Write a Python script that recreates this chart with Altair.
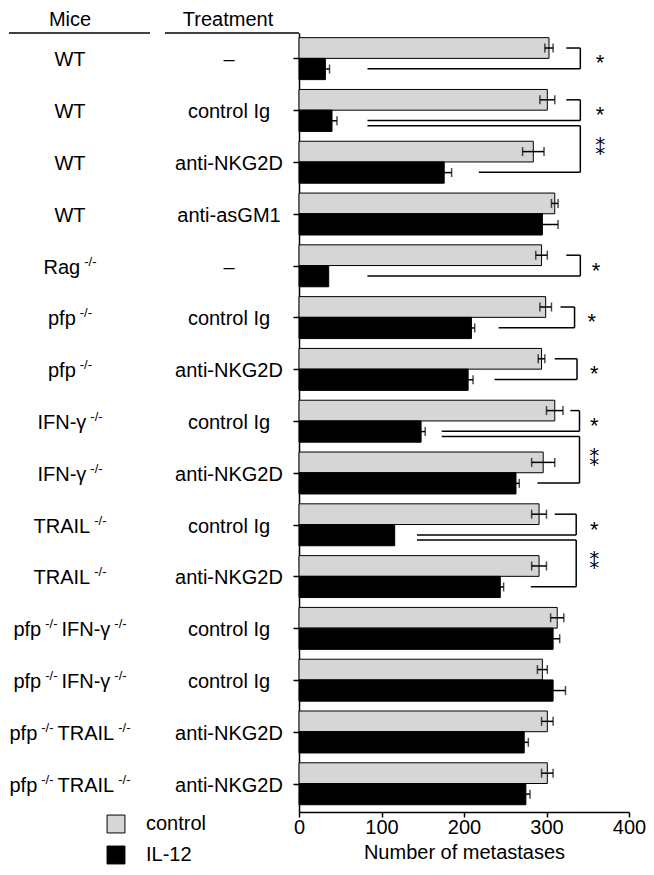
import re
import altair as alt
import pandas as pd

# ---------------- data ----------------
mice = ["WT", "WT", "WT", "WT", "Rag{-/-}", "pfp{-/-}", "pfp{-/-}",
        "IFN-γ{-/-}", "IFN-γ{-/-}", "TRAIL{-/-}", "TRAIL{-/-}",
        "pfp{-/-} IFN-γ{-/-}", "pfp{-/-} IFN-γ{-/-}",
        "pfp{-/-} TRAIL{-/-}", "pfp{-/-} TRAIL{-/-}"]
treatment = ["–", "control Ig", "anti-NKG2D", "anti-asGM1", "–", "control Ig",
             "anti-NKG2D", "control Ig", "anti-NKG2D", "control Ig", "anti-NKG2D",
             "control Ig", "control Ig", "anti-NKG2D", "anti-NKG2D"]
control_mean = [303, 301, 284, 310, 294, 299, 294, 310, 296, 291, 291, 313, 295, 301, 301]
control_err = [5, 9, 13, 4, 7, 7, 4, 10, 14, 9, 9, 8, 6, 7, 7]
il12_mean = [32, 40, 176, 295, 36, 209, 205, 148, 263, 116, 244, 308, 308, 273, 275]
il12_err = [5, 6, 9, 19, 0, 4, 6, 5, 4, 0, 4, 8, 15, 5, 5]
series_names = ["control", "IL-12"]

# significance brackets: top row/bar, bottom row/bar, left ends, right x, stars
br_top_row = [0, 1, 1, 4, 5, 6, 7, 7, 9, 9]
br_top_bar = ["c", "c", "i2", "c", "c", "c", "c", "i2", "c", "i2"]
br_bot_row = [0, 1, 2, 4, 5, 6, 7, 8, 9, 10]
br_bot_bar = ["i", "i", "i", "i", "i", "i", "i", "i", "i", "i"]
br_top_left = [324, 324, 83, 324, 317, 310, 329, 173, 310, 143]
br_right = [341, 341, 341, 341, 334, 337, 340, 340, 336, 336]
br_bot_left = [83, 83, 218, 83, 242, 237, 173, 289, 143, 281]
br_stars = ["*", "*", "⁑", "*", "*", "*", "*", "⁑", "*", "⁑"]
br_star_x = [365, 365, 365, 360, 355, 358, 358, 358, 358, 358]
tick_values = [0, 100, 200, 300, 400]

# ---------------- layout ----------------
FONT = "Liberation Sans"
PW, PH = 330, 779
XMAX = 400
YDOM = [-0.49, 14.55]
px2u = XMAX / PW
yscale = alt.Scale(domain=YDOM, reverse=True, nice=False, zero=False)
xscale = alt.Scale(domain=[0, XMAX], nice=False, zero=False)
bar_off = {"c": (-0.40, 0.0), "i": (0.0, 0.41)}
line_off = {"c": -0.2, "i": 0.2, "i2": 0.3}

rows = []
for i in range(len(mice)):
    for s, m, e, key in (("control", control_mean[i], control_err[i], "c"),
                         ("IL-12", il12_mean[i], il12_err[i], "i")):
        y0, y1 = bar_off[key]
        rows.append(dict(row=i, series=s, value=m, err=e, zero=0,
                         y0=i + y0, y1=i + y1, yc=i + (y0 + y1) / 2,
                         lo=m - e, hi=m + e))
bars = pd.DataFrame(rows)
errs = bars[bars.err > 0].copy()
caps = pd.concat([errs.assign(cx=errs.lo), errs.assign(cx=errs.hi)])

segs, stars = [], []
for k in range(len(br_right)):
    ty = br_top_row[k] + line_off[br_top_bar[k]]
    by = br_bot_row[k] + line_off[br_bot_bar[k]]
    segs.append(dict(x=br_top_left[k], x2=br_right[k], y=ty, y2=ty))
    segs.append(dict(x=br_right[k], x2=br_right[k], y=ty, y2=by))
    segs.append(dict(x=br_bot_left[k], x2=br_right[k], y=by, y2=by))
    stars.append(dict(x=br_star_x[k], y=(ty + by) / 2, t=br_stars[k]))
segs = pd.DataFrame(segs)
stars = pd.DataFrame(stars)
single = stars[stars.t == "*"]
double = stars[stars.t != "*"]

# text widths (Arial / Liberation Sans metrics)
AW = {'W': 944, 'T': 611, 'R': 722, 'a': 556, 'g': 556, 'p': 556, 'f': 278, 'I': 278,
      'F': 611, 'N': 722, '-': 333, 'γ': 500, 'A': 667, 'L': 556, ' ': 278, '/': 278}


def tw(s, size):
    return sum(AW.get(ch, 556) for ch in s) * size / 1000


BASE, SUP = 20, 13
MICE_CX = -229
TREAT_CX = -70
label_rows = []
for i, lab in enumerate(mice):
    parts = []
    for base, sup in re.findall(r"([^{]+)|\{([^}]+)\}", lab):
        if base:
            parts.append((base.strip(), False))
        else:
            parts.append((sup, True))
    widths, gaps = [], []
    for j, (t, is_sup) in enumerate(parts):
        widths.append(tw(t, SUP if is_sup else BASE))
        gaps.append(0 if j == 0 else 4)
    total = sum(widths) + sum(gaps)
    x = MICE_CX - total / 2
    for (t, is_sup), w, g in zip(parts, widths, gaps):
        x += g
        label_rows.append(dict(row=i, text=t, sup=is_sup, xu=x * px2u))
        x += w
labels = pd.DataFrame(label_rows)
treat = pd.DataFrame(dict(row=list(range(len(treatment))), text=treatment,
                          xu=[TREAT_CX * px2u] * len(treatment)))

# ---------------- layers ----------------
bar_layer = alt.Chart(bars).mark_rect(stroke="black", strokeWidth=1).encode(
    x=alt.X("zero:Q", scale=xscale,
            axis=alt.Axis(values=tick_values, title="Number of metastases", grid=False,
                          tickSize=5, labelPadding=0, titlePadding=5, labelFlush=False)),
    x2="value:Q",
    y=alt.Y("y0:Q", scale=yscale,
            axis=alt.Axis(values=list(range(len(mice))), labels=False, title=None,
                          grid=False, tickSize=6)),
    y2="y1:Q",
    color=alt.Color("series:N",
                    scale=alt.Scale(domain=series_names, range=["#d6d6d6", "black"]),
                    legend=alt.Legend(orient="none", legendX=-193, legendY=781, title=None,
                                      symbolType="square", symbolSize=320,
                                      symbolStrokeColor="black", symbolStrokeWidth=1,
                                      labelFontSize=20, labelFont=FONT, labelColor="black",
                                      labelOffset=20, rowPadding=9)),
)

err_layer = alt.Chart(errs).mark_rule(color="black", strokeWidth=1.5).encode(
    x="lo:Q", x2="hi:Q", y="yc:Q")
cap_layer = alt.Chart(caps).mark_tick(color="black", orient="vertical", size=9,
                                      thickness=1.5).encode(x="cx:Q", y="yc:Q")

br_layer = alt.Chart(segs).mark_rule(color="black", strokeWidth=1.5).encode(
    x="x:Q", x2="x2:Q", y="y:Q", y2="y2:Q")
star1_layer = alt.Chart(single).mark_text(fontSize=22, dy=12, font=FONT,
                                          baseline="alphabetic", color="black").encode(
    x="x:Q", y="y:Q", text="t:N")
star2_layer = alt.Chart(double).mark_text(fontSize=20, font="DejaVu Sans",
                                          baseline="middle", color="black").encode(
    x="x:Q", y="y:Q", text="t:N")

mice_base = alt.Chart(labels[~labels.sup]).mark_text(
    align="left", baseline="alphabetic", dy=8, fontSize=BASE, font=FONT, color="black"
).encode(x="xu:Q", y="row:Q", text="text:N")
mice_sup = alt.Chart(labels[labels.sup]).mark_text(
    align="left", baseline="alphabetic", dy=0, fontSize=SUP, font=FONT, color="black"
).encode(x="xu:Q", y="row:Q", text="text:N")
treat_layer = alt.Chart(treat).mark_text(
    align="center", baseline="alphabetic", dy=8, fontSize=BASE, font=FONT, color="black"
).encode(x="xu:Q", y="row:Q", text="text:N")

hdr = pd.DataFrame(dict(t=["Mice"]))
hdr_mice = alt.Chart(hdr).mark_text(align="center", baseline="alphabetic", fontSize=20,
                                    font=FONT, color="black").encode(
    text="t:N", x=alt.value(MICE_CX), y=alt.value(-7))
hdr2 = pd.DataFrame(dict(t=["Treatment"]))
hdr_treat = alt.Chart(hdr2).mark_text(align="center", baseline="alphabetic", fontSize=20,
                                      font=FONT, color="black").encode(
    text="t:N", x=alt.value(TREAT_CX - 1), y=alt.value(-7))
line1 = alt.Chart(hdr).mark_rule(color="black", strokeWidth=1.5).encode(
    x=alt.value(-290), x2=alt.value(-149), y=alt.value(0))
line2 = alt.Chart(hdr).mark_rule(color="black", strokeWidth=1.5).encode(
    x=alt.value(-134), x2=alt.value(0), y=alt.value(0))

chart = alt.layer(
    bar_layer, err_layer, cap_layer, br_layer, star1_layer, star2_layer,
    mice_base, mice_sup, treat_layer, hdr_mice, hdr_treat, line1, line2
).properties(
    width=PW, height=PH,
    autosize=alt.AutoSizeParams(type="none"),
    padding={"left": 291, "top": 25, "right": 17, "bottom": 53},
).configure(font=FONT).configure_view(stroke=None).configure_axis(
    labelFont=FONT, labelFontSize=20, labelColor="black", titleFont=FONT,
    titleFontSize=20, titleFontWeight="normal", titleColor="black",
    domainColor="black", tickColor="black", domainWidth=1.5, tickWidth=1.5
)

chart.save("out.html", embed_options={"renderer": "svg", "actions": False})
